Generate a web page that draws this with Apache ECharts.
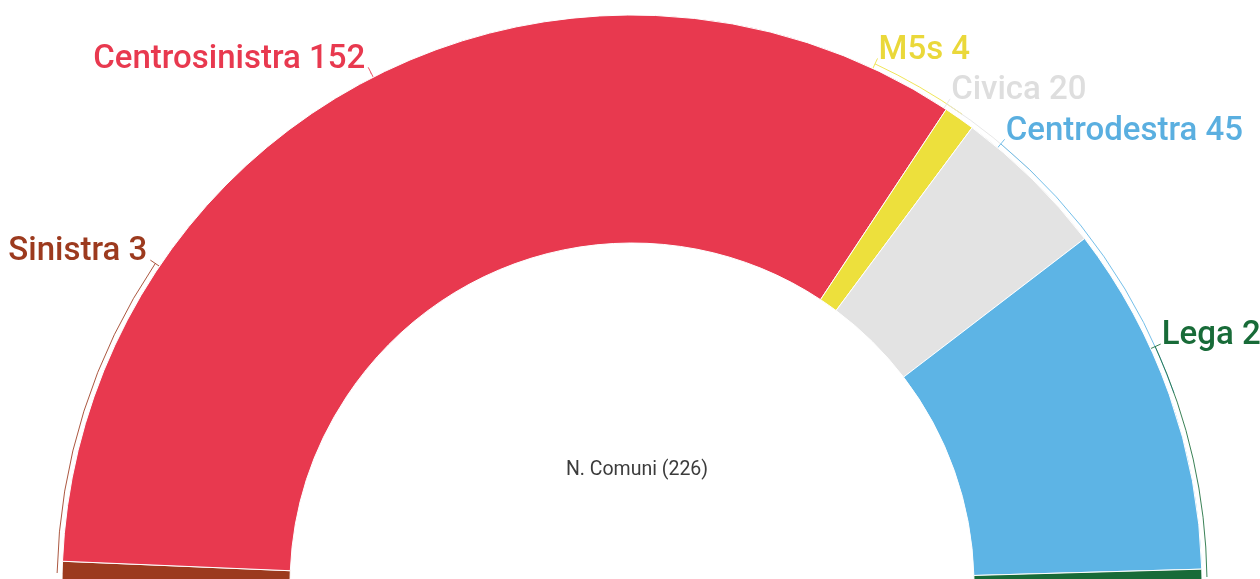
<!DOCTYPE html>
<html>
<head>
<meta charset="utf-8">
<script src="https://cdn.jsdelivr.net/npm/echarts@6/dist/echarts.min.js"></script>
<style>
  html, body { margin: 0; padding: 0; background: #fff; }
  #chart { width: 1260px; height: 579px; }
</style>
</head>
<body>
<div id="chart"></div>
<script>
// data
const categories = ['Sinistra', 'Centrosinistra', 'M5s', 'Civica', 'Centrodestra', 'Lega']
const values = [3, 152, 4, 20, 45, 2]
const colors = ['#9c3a1e', '#e8394f', '#ede03c', '#e3e3e3', '#5db4e5', '#186b38']
const labelColors = ['#9c3a1e', '#e8394f', '#ead83a', '#dedede', '#5aafe0', '#186b38']

// layout: angle (deg) where each label sits on the outer ring
const labelAngles = [146, 117, 65, 56.8, 50.1, 24.5]

const cx = 632, cy = 585
const rIn = 342, rOut = 570, rLine = 575
const total = values.reduce((a, b) => a + b, 0)
const rad = Math.PI / 180

const chart = echarts.init(document.getElementById('chart'), null, { renderer: 'canvas' })

function renderLeader(params, api) {
  const i = params.dataIndex
  let before = 0
  for (let k = 0; k < i; k++) before += values[k]
  const mid = 180 - (before + values[i] / 2) / total * 180
  const la = labelAngles[i]
  const hi = Math.max(mid, la), lo = Math.min(mid, la)
  const qx = cx + (rLine + 6) * Math.cos(la * rad)
  const qy = cy - (rLine + 6) * Math.sin(la * rad)
  const left = la > 90
  return {
    type: 'group',
    children: [
      {
        type: 'arc',
        shape: { cx: cx, cy: cy, r: rLine, startAngle: -hi * rad, endAngle: -lo * rad, clockwise: true },
        style: { stroke: colors[i], lineWidth: 1, fill: null, opacity: 0.85 }
      },
      {
        type: 'line',
        shape: { x1: cx + rOut * Math.cos(la * rad), y1: cy - rOut * Math.sin(la * rad), x2: qx, y2: qy },
        style: { stroke: colors[i], lineWidth: 1, opacity: 0.85 }
      },
      {
        type: 'text',
        style: {
          x: left ? qx - 3 : qx + 1,
          y: qy - 8,
          text: categories[i] + ' ' + values[i],
          align: left ? 'right' : 'left',
          verticalAlign: 'middle',
          fill: labelColors[i],
          fontFamily: 'Roboto',
          fontWeight: 500,
          fontSize: 33
        }
      }
    ]
  }
}

chart.setOption({
  backgroundColor: '#fff',
  animation: false,
  title: {
    text: 'N. Comuni (' + total + ')',
    left: 632,
    top: 455,
    textAlign: 'center',
    textStyle: { fontFamily: 'Roboto', fontWeight: 'normal', fontSize: 19.5, color: '#3c3c3c' }
  },
  series: [
    {
      type: 'pie',
      center: [cx, cy],
      radius: [rIn, rOut],
      startAngle: 180,
      endAngle: 0,
      clockwise: true,
      silent: true,
      label: { show: false },
      labelLine: { show: false },
      itemStyle: { borderColor: '#fff', borderWidth: 1 },
      data: categories.map((c, i) => ({ name: c, value: values[i], itemStyle: { color: colors[i] } }))
    },
    {
      type: 'custom',
      coordinateSystem: 'none',
      silent: true,
      renderItem: renderLeader,
      data: categories.map((c, i) => [i])
    }
  ]
})
</script>
</body>
</html>
